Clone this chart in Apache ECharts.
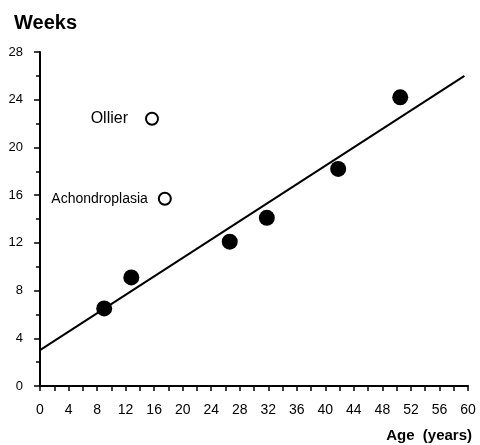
<!DOCTYPE html>
<html>
<head>
<meta charset="utf-8">
<script src="https://cdn.jsdelivr.net/npm/echarts@6/dist/echarts.min.js"></script>
<style>
html,body{margin:0;padding:0;background:#fff;}
#c{width:480px;height:445px;}
</style>
</head>
<body>
<div id="c"></div>
<script>
// Data
var patientAges = [9, 12.8, 26.6, 31.8, 41.8, 50.5];
var patientWeeks = [6.5, 9.1, 12.1, 14.1, 18.2, 24.2];
var otherNames = ['Ollier', 'Achondroplasia'];
var otherAges = [15.7, 17.5];
var otherWeeks = [22.4, 15.7];
var fitAges = [0, 59.5];
var fitWeeks = [3, 26];
var xTicks = [0, 4, 8, 12, 16, 20, 24, 28, 32, 36, 40, 44, 48, 52, 56, 60];
var yTicks = [0, 4, 8, 12, 16, 20, 24, 28];

var FONT = '"Liberation Sans", Arial, sans-serif';
var labelGap = { 'Ollier': 17, 'Achondroplasia': 10 };
var labelSize = { 'Ollier': 16, 'Achondroplasia': 14 };

var chart = echarts.init(document.getElementById('c'), null, { renderer: 'canvas' });

chart.setOption({
  backgroundColor: '#ffffff',
  animation: false,
  textStyle: { fontFamily: FONT, color: '#000' },
  grid: { left: 40, right: 12, top: 52, bottom: 59, containLabel: false },
  title: [
    { text: 'Weeks', left: 9, top: 8,
      textStyle: { fontFamily: FONT, fontSize: 20, fontWeight: 'bold', color: '#000' } },
    { text: 'Age  (years)', right: 3, top: 423,
      textStyle: { fontFamily: FONT, fontSize: 15, fontWeight: 'bold', color: '#000' } }
  ],
  xAxis: {
    type: 'value',
    min: xTicks[0],
    max: xTicks[xTicks.length - 1],
    interval: 4,
    axisLine: { show: true, onZero: false, lineStyle: { color: '#000', width: 2 } },
    axisTick: { show: true, length: 5, lineStyle: { color: '#000', width: 1.5 } },
    minorTick: { show: true, splitNumber: 2, length: 5, lineStyle: { color: '#000', width: 1.5 } },
    splitLine: { show: false },
    axisLabel: { color: '#000', fontFamily: FONT, fontSize: 14, margin: 17 }
  },
  yAxis: {
    type: 'value',
    min: yTicks[0],
    max: yTicks[yTicks.length - 1],
    interval: 4,
    axisLine: { show: true, onZero: false, lineStyle: { color: '#000', width: 2 } },
    axisTick: { show: true, length: 6, lineStyle: { color: '#000', width: 1.5 } },
    minorTick: { show: true, splitNumber: 2, length: 4, lineStyle: { color: '#000', width: 1.5 } },
    splitLine: { show: false },
    axisLabel: { color: '#000', fontFamily: FONT, fontSize: 13, margin: 17 }
  },
  series: [
    {
      type: 'line',
      data: fitAges.map(function (a, i) { return [a, fitWeeks[i]]; }),
      showSymbol: false,
      symbol: 'none',
      lineStyle: { color: '#000', width: 2 },
      silent: true,
      z: 2
    },
    {
      type: 'scatter',
      data: patientAges.map(function (a, i) { return [a, patientWeeks[i]]; }),
      symbol: 'circle',
      symbolSize: 16,
      itemStyle: { color: '#000', opacity: 1 },
      z: 3
    },
    {
      type: 'scatter',
      data: otherAges.map(function (a, i) {
        var n = otherNames[i];
        return {
          value: [a, otherWeeks[i]],
          name: n,
          label: { show: true, position: 'left', distance: labelGap[n], formatter: n,
                   fontSize: labelSize[n], fontFamily: FONT, color: '#000' }
        };
      }),
      symbol: 'circle',
      symbolSize: 12,
      itemStyle: { color: '#fff', borderColor: '#000', borderWidth: 2, opacity: 1 },
      z: 3
    }
  ]
});
</script>
</body>
</html>
